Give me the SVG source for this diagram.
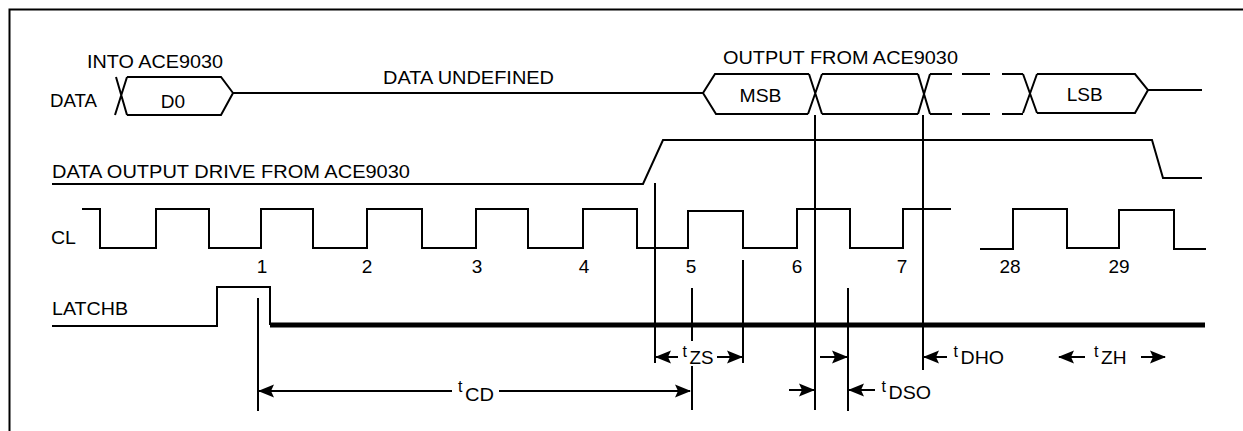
<svg xmlns="http://www.w3.org/2000/svg" width="1243" height="431" viewBox="0 0 1243 431">
<style>
.ln{fill:none;stroke:#000;stroke-width:2;stroke-linejoin:miter;stroke-linecap:butt}
.thick{fill:none;stroke:#000;stroke-width:5}
.tx{font-family:"Liberation Sans",Arial,Helvetica,sans-serif;font-size:19px;fill:#000}
.mid{text-anchor:middle}
.st{font-size:16px}
.arr{fill:none;stroke:#000;stroke-width:2;marker-end:url(#ah)}
</style>
<defs>
<marker id="ah" markerUnits="userSpaceOnUse" markerWidth="16" markerHeight="14" refX="15" refY="7" orient="auto">
<path d="M0,0.5 L16,7 L0,13.5 L3,7 Z" fill="#000"/>
</marker>
</defs>
<rect width="1243" height="431" fill="#fff"/>
<g id="frame">
<path class="ln" d="M9.5,431 L9.5,9.5 L1243,9.5"/>
</g>
<g id="data">
<text class="tx" x="50" y="107" textLength="47" lengthAdjust="spacingAndGlyphs">DATA</text>
<text class="tx" x="87" y="68" textLength="136" lengthAdjust="spacingAndGlyphs">INTO ACE9030</text>
<path class="ln" d="M115,115 L127,77 M116,77 L127,115"/>
<path class="ln" d="M127,77 L221,77 L233,93 L221,115 L127,115"/>
<text class="tx mid" x="173" y="108">D0</text>
<path class="ln" d="M233,93 L703,93"/>
<text class="tx" x="383" y="83.5" textLength="171" lengthAdjust="spacingAndGlyphs">DATA UNDEFINED</text>
<text class="tx" x="723" y="63.5" textLength="235" lengthAdjust="spacingAndGlyphs">OUTPUT FROM ACE9030</text>
<path class="ln" d="M809,74 L715,74 L703,93 L716,114 L808,114"/>
<text class="tx mid" x="760.5" y="101.5" textLength="42" lengthAdjust="spacingAndGlyphs">MSB</text>
<path class="ln" d="M809,74 L822,114 M808,114 L822,74"/>
<path class="ln" d="M822,74 L918,74 M822,114 L918,114"/>
<path class="ln" d="M918,74 L930,114 M918,114 L930,74"/>
<path class="ln" d="M930,74 L952,74 M962,74 L990,74 M1002,74 L1023,74 M930,114 L952,114 M962,114 L990,114 M1002,114 L1023,114"/>
<path class="ln" d="M1023,74 L1037,113 M1023,113 L1037,74"/>
<path class="ln" d="M1037,74 L1135,74 L1148,90 L1135,113 L1037,113 M1148,90 L1202,90"/>
<text class="tx mid" x="1084.7" y="101" textLength="36" lengthAdjust="spacingAndGlyphs">LSB</text>
</g>
<g id="drive">
<text class="tx" x="52" y="178" textLength="358" lengthAdjust="spacingAndGlyphs">DATA OUTPUT DRIVE FROM ACE9030</text>
<path class="ln" d="M52,184 L643,184 L663,140 L1152,140 L1163,178 L1202,178"/>
</g>
<g id="cl">
<text class="tx" x="51" y="244" textLength="25" lengthAdjust="spacingAndGlyphs">CL</text>
<path class="ln" d="M82,209 L100,209 L100,248 L156,248 L156,209 L209,209 L209,248 L261,248 L261,209 L313,209 L313,248 L367,248 L367,209 L422,209 L422,248 L476,248 L476,209 L528,209 L528,248 L583,248 L583,209 L637,209 L637,248 L688,248 L688,211 L743,211 L743,248 L797,248 L797,209 L850,209 L850,248 L903,248 L903,209 L951,209"/>
<path class="ln" d="M980,249 L1013,249 L1013,209 L1067,209 L1067,248 L1119,248 L1119,210 L1174,210 L1174,249 L1206,249"/>
<text class="tx mid" x="262" y="273">1</text>
<text class="tx mid" x="367" y="273">2</text>
<text class="tx mid" x="477" y="273">3</text>
<text class="tx mid" x="584" y="273">4</text>
<text class="tx mid" x="691" y="273">5</text>
<text class="tx mid" x="797" y="273">6</text>
<text class="tx mid" x="902" y="273">7</text>
<text class="tx mid" x="1010" y="273">28</text>
<text class="tx mid" x="1119" y="273">29</text>
</g>
<g id="latchb">
<text class="tx" x="52" y="315" textLength="76" lengthAdjust="spacingAndGlyphs">LATCHB</text>
<path class="ln" d="M52,326 L217,326 L217,287 L270,287 L270,325"/>
<path class="thick" d="M270,325 L1205,325"/>
</g>
<g id="connectors">
<path class="ln" d="M258,298 L258,411"/>
<path class="ln" d="M655,183 L655,363"/>
<path class="ln" d="M692,288 L692,341 M692,366 L692,410"/>
<path class="ln" d="M743,260 L743,363"/>
<path class="ln" d="M815,115 L815,410"/>
<path class="ln" d="M848,288 L848,411"/>
<path class="ln" d="M923,115 L923,370"/>
<path class="arr" d="M452,391 L259,391"/>
<path class="arr" d="M499,391 L690,391"/>
<path class="arr" d="M678,357 L656,357"/>
<path class="arr" d="M717,357 L742,357"/>
<path class="arr" d="M820,357 L847,357"/>
<path class="arr" d="M789,390 L814,390"/>
<path class="arr" d="M875,390 L849,390"/>
<path class="arr" d="M947,357 L924,357"/>
<path class="arr" d="M1085,357 L1059,357"/>
<path class="arr" d="M1141,357 L1165,357"/>
<text class="tx" x="458" y="392"><tspan class="st">t</tspan><tspan x="465" y="400.5" textLength="29" lengthAdjust="spacingAndGlyphs">CD</tspan></text>
<text class="tx" x="682.5" y="357"><tspan class="st">t</tspan><tspan x="689.5" y="363.5" textLength="24" lengthAdjust="spacingAndGlyphs">ZS</tspan></text>
<text class="tx" x="881.5" y="391.5"><tspan class="st">t</tspan><tspan x="888.5" y="398.5" textLength="42.5" lengthAdjust="spacingAndGlyphs">DSO</tspan></text>
<text class="tx" x="953.5" y="357"><tspan class="st">t</tspan><tspan x="960.5" y="363.5" textLength="43.5" lengthAdjust="spacingAndGlyphs">DHO</tspan></text>
<text class="tx" x="1094" y="357"><tspan class="st">t</tspan><tspan x="1101" y="363.5" textLength="25.5" lengthAdjust="spacingAndGlyphs">ZH</tspan></text>
</g>
</svg>
